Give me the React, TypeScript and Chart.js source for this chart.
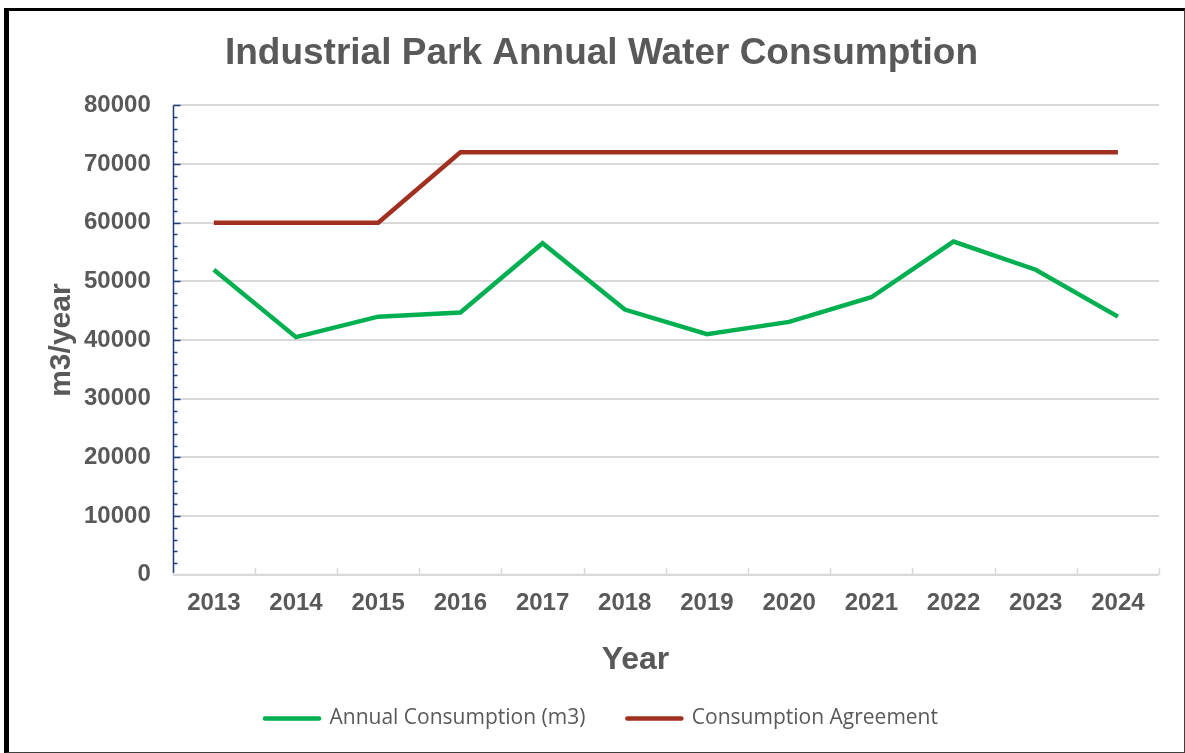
import React, { useEffect, useRef } from "react";
import { Chart, registerables } from "chart.js";

Chart.register(...registerables);

const years = ["2013", "2014", "2015", "2016", "2017", "2018", "2019", "2020", "2021", "2022", "2023", "2024"];
const annualConsumption = [52000, 40500, 44000, 44700, 56500, 45200, 41000, 43100, 47300, 56800, 52000, 44000];
const consumptionAgreement = [60000, 60000, 60000, 72000, 72000, 72000, 72000, 72000, 72000, 72000, 72000, 72000];
const yMin = 0;
const yMax = 80000;
const yStep = 10000;
const yMinorStep = 2000;
const xTitle = "Year";

const GREEN = "#00b050";
const RED = "#a0301f";
const TEXT = "#595959";
const FONT = "'Liberation Sans', Arial, sans-serif";

const axisPlugin = {
  id: "axisDecor",
  beforeDatasetsDraw(chart: any) {
    const { ctx, chartArea, scales } = chart;
    const xs = scales.x;
    const ys = scales.y;
    ctx.save();
    const y0 = ys.getPixelForValue(yMin);
    ctx.strokeStyle = "#d9d9d9";
    ctx.lineWidth = 2;
    ctx.beginPath();
    ctx.moveTo(chartArea.left, y0);
    ctx.lineTo(chartArea.right, y0);
    ctx.stroke();
    for (let i = 0; i <= years.length; i++) {
      const px = Math.round(xs.getPixelForValue(i - 0.5)) + 0.5;
      ctx.beginPath();
      ctx.moveTo(px, y0);
      ctx.lineTo(px, y0 - 7);
      ctx.lineWidth = 1.5;
      ctx.stroke();
    }
    const ax = chartArea.left + 0.75;
    ctx.strokeStyle = "#1f3b78";
    ctx.lineWidth = 1.5;
    ctx.beginPath();
    ctx.moveTo(ax, ys.getPixelForValue(yMax));
    ctx.lineTo(ax, y0 - 2);
    ctx.stroke();
    for (let v = yMin; v <= yMax; v += yMinorStep) {
      if (v === yMin) continue;
      const py = Math.round(ys.getPixelForValue(v)) + 0.5;
      const len = v % yStep === 0 ? 7 : 4;
      ctx.beginPath();
      ctx.moveTo(ax, py);
      ctx.lineTo(ax + len, py);
      ctx.lineWidth = 1.5;
      ctx.stroke();
    }
    ctx.restore();
  },
  afterDraw(chart: any) {
    const { ctx, chartArea, scales } = chart;
    const xs = scales.x;
    ctx.save();
    ctx.fillStyle = TEXT;
    ctx.font = `bold 32px ${FONT}`;
    ctx.textAlign = "center";
    ctx.textBaseline = "middle";
    // axis title sits slightly left of the plot centre, as in the original
    const cx = xs.getPixelForValue(5.13);
    ctx.fillText(xTitle, cx, chartArea.bottom + 85);
    ctx.restore();
  },
};

export default function App() {
  const canvasRef = useRef<HTMLCanvasElement | null>(null);

  useEffect(() => {
    document.body.style.margin = "0";
    const canvas = canvasRef.current;
    if (!canvas) return;
    const chart = new Chart(canvas, {
      type: "line",
      data: {
        labels: years,
        datasets: [
          {
            label: "Annual Consumption (m3)",
            data: annualConsumption,
            borderColor: GREEN,
            backgroundColor: GREEN,
            borderWidth: 4.5,
            pointRadius: 0,
            tension: 0,
            borderJoinStyle: "miter",
          },
          {
            label: "Consumption Agreement",
            data: consumptionAgreement,
            borderColor: RED,
            backgroundColor: RED,
            borderWidth: 4.5,
            pointRadius: 0,
            tension: 0,
            borderJoinStyle: "miter",
          },
        ],
      },
      options: {
        responsive: false,
        animation: false,
        layout: { padding: { left: 44, right: 26, top: 18, bottom: 14 } },
        plugins: {
          title: {
            display: true,
            text: "Industrial Park Annual Water Consumption",
            color: TEXT,
            font: { family: FONT, size: 37, weight: "bold" },
            padding: { top: 14, bottom: 29 },
          },
          legend: {
            position: "bottom",
            labels: {
              color: TEXT,
              font: { family: "'Open Sans', sans-serif", size: 21 },
              usePointStyle: true,
              pointStyle: "line",
              pointStyleWidth: 54,
              padding: 42,
              generateLabels: (c: any) =>
                Chart.defaults.plugins.legend.labels.generateLabels(c).map((it: any) => ({
                  ...it,
                  lineCap: "round",
                  lineWidth: 4.5,
                  pointStyle: "line",
                })),
            },
          },
          tooltip: { enabled: false },
        },
        scales: {
          x: {
            offset: true,
            grid: { display: false, drawTicks: false },
            border: { display: false },
            ticks: {
              color: TEXT,
              font: { family: FONT, size: 24, weight: "bold" },
              padding: 14,
              maxRotation: 0,
            },
            title: {
              display: true,
              text: xTitle,
              color: "rgba(0,0,0,0)",
              font: { family: FONT, size: 32, weight: "bold" },
              padding: { top: 6, bottom: -10 },
            },
          },
          y: {
            min: yMin,
            max: yMax,
            grid: { color: "#d9d9d9", lineWidth: 2, drawTicks: false },
            border: { display: false },
            ticks: {
              stepSize: yStep,
              color: TEXT,
              font: { family: FONT, size: 24, weight: "bold" },
              padding: 22,
              callback: (v: any) => String(v),
            },
            title: {
              display: true,
              text: "m3/year",
              color: TEXT,
              font: { family: FONT, size: 30, weight: "bold" },
              padding: { top: 0, bottom: -18 },
            },
          },
        },
      },
      plugins: [axisPlugin],
    });
    return () => chart.destroy();
  }, []);

  return (
    <div style={{ position: "fixed", left: 0, top: 0, width: 1185, height: 753, background: "#fff" }}>
      <canvas ref={canvasRef} width={1185} height={753} style={{ position: "absolute", left: 0, top: 0 }} />
      <div
        style={{
          position: "absolute",
          left: 4,
          top: 8,
          width: 1181,
          height: 745,
          boxSizing: "border-box",
          borderLeft: "5px solid #000",
          borderTop: "3px solid #000",
          borderRight: "1px solid #404040",
          borderBottom: "1px solid #404040",
          pointerEvents: "none",
        }}
      />
    </div>
  );
}
